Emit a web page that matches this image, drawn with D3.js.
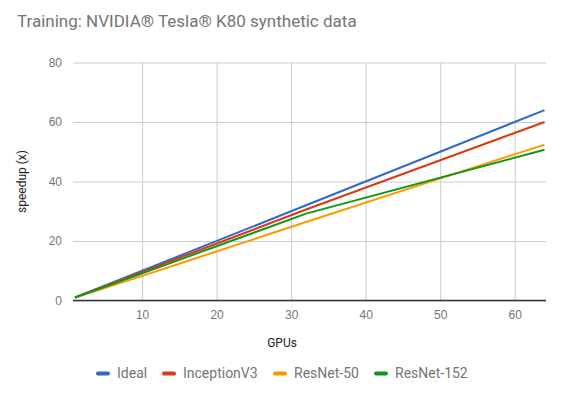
<!DOCTYPE html>
<html>
<head>
<meta charset="utf-8">
<script src="https://cdn.jsdelivr.net/npm/d3@7"></script>
<style>
  html, body { margin: 0; padding: 0; background: #fff; }
  svg { display: block; font-family: Roboto, "Noto Sans", sans-serif; }
</style>
</head>
<body>
<svg id="chart" width="566" height="398"></svg>
<script>
// values
const gpus = [1, 8, 16, 32, 64];
const seriesNames = ['Ideal', 'InceptionV3', 'ResNet-50', 'ResNet-152'];
const ideal = [1, 8, 16, 32, 64];
const inceptionV3 = [1, 7.7, 15.3, 30.6, 60.0];
const resnet50 = [1, 6.6, 13.2, 26.4, 52.4];
const resnet152 = [1, 7.3, 14.6, 29.2, 50.7];
const xTicks = [10, 20, 30, 40, 50, 60];
const yTicks = [0, 20, 40, 60, 80];
const colors = ['#3366cc', '#dc3912', '#ff9900', '#109618'];

const seriesValues = [ideal, inceptionV3, resnet50, resnet152];

const plot = {left: 73, right: 546, top: 62.5, bottom: 300.5};

const svg = d3.select('#chart');

const x = d3.scaleLinear()
  .domain([0.73, 64.2])
  .range([plot.left, plot.right]);

const y = d3.scaleLinear()
  .domain([0, 80])
  .range([plot.bottom, plot.top]);

// title
svg.append('text')
  .attr('x', 17)
  .attr('y', 27)
  .attr('fill', '#757575')
  .attr('font-size', 17)
  .text('Training: NVIDIA® Tesla® K80 synthetic data');

// horizontal gridlines + y labels
const yAxis = d3.axisLeft(y)
  .tickValues(yTicks)
  .tickSize(-(plot.right - plot.left))
  .tickPadding(11);

svg.append('g')
  .attr('transform', 'translate(' + plot.left + ',0)')
  .call(yAxis)
  .call(g => g.select('.domain').remove())
  .call(g => g.selectAll('line').attr('stroke', '#cccccc'))
  .call(g => g.selectAll('text').attr('fill', '#757575').attr('font-size', 12));

// vertical gridlines + x labels
const xAxis = d3.axisBottom(x)
  .tickValues(xTicks)
  .tickSize(-(plot.bottom - plot.top))
  .tickPadding(10);

svg.append('g')
  .attr('transform', 'translate(0,' + plot.bottom + ')')
  .call(xAxis)
  .call(g => g.select('.domain').remove())
  .call(g => g.selectAll('line').attr('stroke', '#cccccc'))
  .call(g => g.selectAll('text').attr('fill', '#757575').attr('font-size', 12));

// baseline
svg.append('line')
  .attr('x1', plot.left)
  .attr('x2', plot.right)
  .attr('y1', y(0))
  .attr('y2', y(0))
  .attr('stroke', '#333333')
  .attr('stroke-width', 1.5);

// axis titles
svg.append('text')
  .attr('x', 282)
  .attr('y', 347)
  .attr('text-anchor', 'middle')
  .attr('fill', '#222222')
  .attr('font-size', 12)
  .text('GPUs');

svg.append('text')
  .attr('transform', 'translate(26,' + ((plot.top + plot.bottom) / 2) + ') rotate(-90)')
  .attr('text-anchor', 'middle')
  .attr('fill', '#222222')
  .attr('font-size', 12)
  .text('speedup (x)');

// series lines
const line = d3.line()
  .x(d => x(d[0]))
  .y(d => y(d[1]));

seriesValues.forEach(function (vals, i) {
  svg.append('path')
    .datum(gpus.map((g, j) => [g, vals[j]]))
    .attr('fill', 'none')
    .attr('stroke', colors[i])
    .attr('stroke-width', 2)
    .attr('stroke-linejoin', 'round')
    .attr('d', line);
});

// legend
const legendX = [97, 163, 274, 375];
const legend = svg.append('g');
seriesNames.forEach(function (name, i) {
  legend.append('line')
    .attr('x1', legendX[i] + 1)
    .attr('x2', legendX[i] + 11)
    .attr('y1', 373.5)
    .attr('y2', 373.5)
    .attr('stroke', colors[i])
    .attr('stroke-width', 4)
    .attr('stroke-linecap', 'round');
  legend.append('text')
    .attr('x', legendX[i] + 20)
    .attr('y', 378)
    .attr('fill', '#757575')
    .attr('font-size', 14)
    .text(name);
});
</script>
</body>
</html>
